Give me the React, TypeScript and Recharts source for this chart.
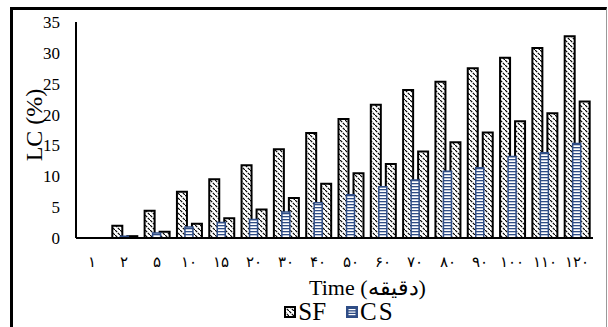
import React from 'react';
import { BarChart, Bar, XAxis, YAxis, Legend } from 'recharts';

const categories = ['۱', '۲', '۵', '۱۰', '۱۵', '۲۰', '۳۰', '۴۰', '۵۰', '۶۰', '۷۰', '۸۰', '۹۰', '۱۰۰', '۱۱۰', '۱۲۰'];
const sfHigh = [0, 2.0, 4.4, 7.5, 9.5, 11.8, 14.4, 17.0, 19.3, 21.6, 24.0, 25.3, 27.5, 29.2, 30.8, 32.7];
const sfLow = [0, 0.3, 1.0, 2.3, 3.2, 4.6, 6.5, 8.8, 10.5, 12.0, 14.0, 15.5, 17.1, 18.9, 20.2, 22.1];
const csValues = [0, 0.3, 0.8, 1.8, 2.5, 3.0, 4.2, 5.7, 7.0, 8.3, 9.4, 10.8, 11.4, 13.2, 13.8, 15.3];
const yTicks = [0, 5, 10, 15, 20, 25, 30, 35];

const data = categories.map((t, i) => ({ t, sfHigh: sfHigh[i], sfLow: sfLow[i], cs: csValues[i] }));

const SERIF = '"Liberation Serif", "Times New Roman", serif';
const BLUE = '#2f4d86';

const LegendIcons = () => (
    <div style={{ display: 'flex', justifyContent: 'center', alignItems: 'center', fontFamily: SERIF, fontSize: 25, color: '#000', lineHeight: '24px', paddingLeft: 86, paddingTop: 10 }}>
        <svg width={12} height={12} style={{ marginRight: 2 }}>
            <rect x={1} y={1} width={10} height={10} fill="url(#sfHatch)" stroke="#000" strokeWidth={2} />
        </svg>
        <span style={{ marginRight: 20 }}>SF</span>
        <svg width={12} height={12} style={{ marginRight: 2 }}>
            <rect x={0} y={0} width={12} height={12} fill={BLUE} />
            <rect x={2.5} y={3} width={7} height={1.2} fill="#fff" />
            <rect x={2.5} y={5.5} width={7} height={1.2} fill="#fff" />
            <rect x={2.5} y={8} width={7} height={1.2} fill="#fff" />
        </svg>
        <span style={{ letterSpacing: 2 }}>CS</span>
    </div>
);

export default function App() {
    return (
        <div style={{ position: 'absolute', left: 0, top: 0, width: 608, height: 327, background: '#fff' }}>
            <div style={{ position: 'absolute', left: 10, top: 7, width: 597, height: 330, boxSizing: 'border-box', borderTop: '3px solid #000', borderLeft: '3px solid #000', borderRight: '1px solid #999' }} />
            <BarChart width={608} height={327} data={data} margin={{ top: 22, right: 15, left: 0, bottom: 0 }} barGap={5}>
                <defs>
                    <pattern id="sfHatch" width={5} height={5} patternUnits="userSpaceOnUse">
                        <rect width={5} height={5} fill="#fff" />
                        <path d="M0,0 L2.2,2.2 M2.8,2.8 L5,5" stroke="#000" strokeWidth={1.2} />
                    </pattern>
                    <pattern id="csLines" width={4} height={3} patternUnits="userSpaceOnUse">
                        <rect width={4} height={3} fill="#fff" />
                        <rect y={0} width={4} height={1.3} fill={BLUE} />
                    </pattern>
                </defs>
                <XAxis
                    xAxisId="a"
                    dataKey="t"
                    height={52}
                    tickLine={false}
                    axisLine={{ stroke: '#000', strokeWidth: 2 }}
                    tick={{ fill: '#000', fontSize: 15, fontFamily: SERIF }}
                    tickMargin={12}
                    interval={0}
                    label={{ value: 'Time (دقیقه)', position: 'insideBottom', offset: -5, fill: '#000', fontSize: 22, fontFamily: SERIF, dx: 33 }}
                />
                <XAxis xAxisId="b" dataKey="t" hide />
                <YAxis
                    width={76}
                    domain={[0, 35]}
                    ticks={yTicks}
                    tickLine={false}
                    axisLine={{ stroke: '#000', strokeWidth: 2 }}
                    tick={{ fill: '#000', fontSize: 17, fontFamily: SERIF }}
                    tickMargin={10}
                    label={{ value: 'LC (%)', angle: -90, position: 'center', dx: -5, dy: -5, fill: '#000', fontSize: 24, fontFamily: SERIF }}
                />
                <Legend verticalAlign="bottom" height={37} content={() => <LegendIcons />} />
                <Bar xAxisId="a" dataKey="sfHigh" barSize={10} fill="url(#sfHatch)" stroke="#000" strokeWidth={2} isAnimationActive={false} />
                <Bar xAxisId="a" dataKey="sfLow" barSize={10} fill="url(#sfHatch)" stroke="#000" strokeWidth={2} isAnimationActive={false} />
                <Bar xAxisId="b" dataKey="cs" barSize={8} fill="url(#csLines)" stroke={BLUE} strokeWidth={1.5} isAnimationActive={false} />
            </BarChart>
        </div>
    );
}
